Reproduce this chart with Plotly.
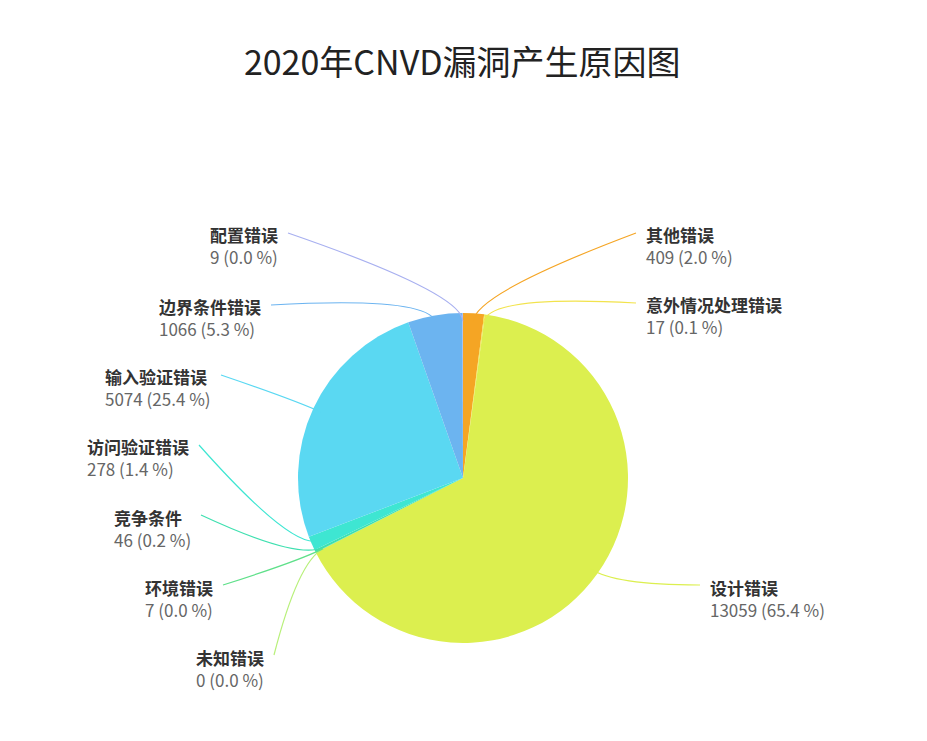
import math
import plotly.graph_objects as go

labels = ["其他错误", "意外情况处理错误", "设计错误", "未知错误", "环境错误", "竞争条件",
          "访问验证错误", "输入验证错误", "边界条件错误", "配置错误"]
values = [409, 17, 13059, 0, 7, 46, 278, 5074, 1066, 9]
colors = ["#f5a524", "#f2e34c", "#dcef4f", "#b8f07a", "#5fe08a", "#3fe0b0",
          "#3ee6d2", "#5ad8f2", "#6cb4f0", "#a8b0f0"]
# label anchor positions (pixels) and side
label_pos = [(636, 238, "r"), (636, 308, "r"), (700, 590, "r"), (258, 660, "l"),
             (207, 590, "l"), (185, 520, "l"), (183, 450, "l"), (205, 380, "l"),
             (255, 310, "l"), (272, 238, "l")]

W, H = 927, 741
cx, cy, r = 455, 470, 165
total = sum(values)

fig = go.Figure(go.Pie(
    labels=labels, values=values, sort=False, direction="clockwise", rotation=0,
    marker=dict(colors=colors, line=dict(width=0)), textinfo="none", hoverinfo="label+value+percent",
    domain=dict(x=[(cx - r) / W, (cx + r) / W], y=[1 - (cy + r) / H, 1 - (cy - r) / H]),
    showlegend=False))

shapes, annotations = [], []
cum = 0
for lab, v, col, (lx, ly, side) in zip(labels, values, colors, label_pos):
    mid = (cum + v / 2) / total * 2 * math.pi
    cum += v
    ex, ey = cx + r * 0.95 * math.sin(mid), cy - r * 0.95 * math.cos(mid)
    bx, by = cx + r * 1.12 * math.sin(mid), cy - r * 1.12 * math.cos(mid)
    tx = lx - 8 if side == "r" else lx + 8
    ty = ly - 13
    path = f"M {ex/W},{1-ey/H} Q {bx/W},{1-by/H} {tx/W},{1-ty/H}"
    shapes.append(dict(type="path", xref="paper", yref="paper", path=path,
                       line=dict(color=col, width=1.2)))
    pct = v / total * 100
    annotations.append(dict(
        x=lx / W, y=1 - ly / H, xref="paper", yref="paper", showarrow=False,
        xanchor="left" if side == "r" else "right", yanchor="middle", align="left",
        text=f"<b><span style='color:#333'>{lab}</span></b><br><span style='color:#666'>{v} ({pct:.1f} %)</span>",
        font=dict(size=17, family="Noto Sans CJK SC")))

fig.update_layout(
    width=W, height=H, margin=dict(l=0, r=0, t=0, b=0), paper_bgcolor="white",
    title=dict(text="2020年CNVD漏洞产生原因图", x=0.49, y=0.925, yanchor="middle", xanchor="center",
               font=dict(size=34, color="#222", family="Noto Sans CJK SC")),
    shapes=shapes, annotations=annotations)
fig.write_html("out.html")
